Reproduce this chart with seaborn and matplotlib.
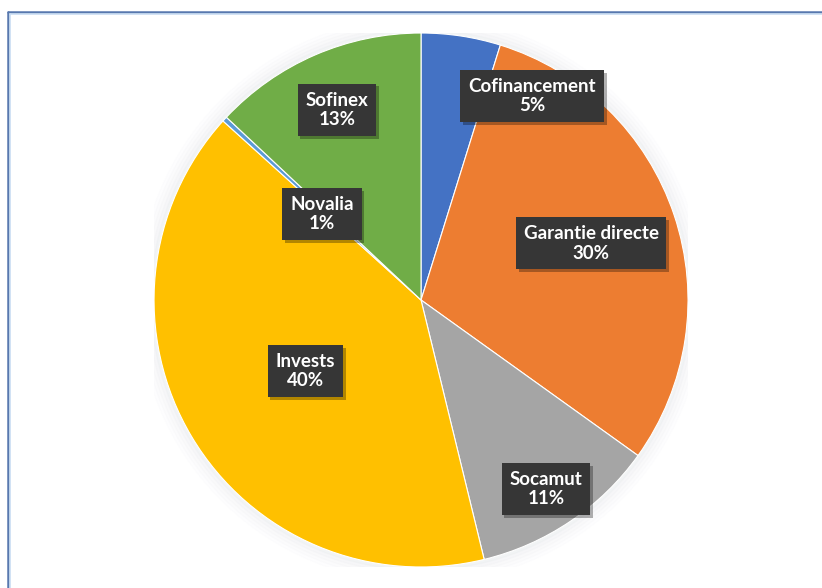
import matplotlib
matplotlib.use("Agg")
import matplotlib.pyplot as plt
import matplotlib.patheffects as pe
import seaborn as sns
from matplotlib.lines import Line2D

sns.set_theme(style="white")
plt.rcParams['font.family'] = ['Lato', 'DejaVu Sans']

# Data
categories = ["Cofinancement", "Garantie directe", "Socamut", "Invests", "Novalia", "Sofinex"]
values = [4.8, 30.1, 11.3, 40.5, 0.3, 13.0]
pct_labels = ["5%", "30%", "11%", "40%", "1%", "13%"]
colors = ["#4472C4", "#ED7D31", "#A5A5A5", "#FFC000", "#5B9BD5", "#70AD47"]

# Label box positions (layout, in axes data units, pie radius = 1)
label_pos = [(0.416, 0.764), (0.637, 0.213), (0.468, -0.708),
             (-0.434, -0.266), (-0.371, 0.322), (-0.315, 0.712)]

fig = plt.figure(figsize=(8.22, 5.88), dpi=100)
fig.patch.set_facecolor("white")

ax = fig.add_axes([0.1874, 0.0357, 0.6496, 0.9082])

# soft shadow halo
for i, a in enumerate([0.03, 0.025, 0.02, 0.015, 0.01]):
    circ = plt.Circle((0, 0), 1.0 + 0.012 * (i + 1), color="#9aa0b0", alpha=a, zorder=0)
    ax.add_patch(circ)

wedges, _ = ax.pie(values, colors=colors, startangle=90, counterclock=False,
                   radius=1.0, wedgeprops=dict(edgecolor="white", linewidth=0.8))

for cat, pct, (x, y) in zip(categories, pct_labels, label_pos):
    t = ax.text(x, y, f"{cat}\n{pct}", ha="center", va="center",
                fontsize=13.5, fontweight="bold", color="white", linespacing=1.2,
                bbox=dict(boxstyle="square,pad=0.42", fc="#363636", ec="none"),
                zorder=5)
    t.get_bbox_patch().set_path_effects([
        pe.SimplePatchShadow(offset=(2, -2), shadow_rgbFace="black", alpha=0.3),
        pe.Normal()])

ax.set_xlim(-1, 1)
ax.set_ylim(-1, 1)
ax.set_aspect("equal")
ax.axis("off")

# Frame border (top and left visible)
W, H = 822, 588
x0 = 8 / W
y0 = 1 - 12 / H
fig.add_artist(Line2D([x0, 1], [y0, y0], transform=fig.transFigure, color="#5878AE", lw=1.8))
fig.add_artist(Line2D([x0, x0], [0, y0], transform=fig.transFigure, color="#5878AE", lw=1.8))
fig.add_artist(Line2D([x0 + 2 / W, 1], [y0 - 2 / H, y0 - 2 / H], transform=fig.transFigure, color="#C9DDF2", lw=1.2))
fig.add_artist(Line2D([x0 + 2 / W, x0 + 2 / W], [0, y0 - 2 / H], transform=fig.transFigure, color="#C9DDF2", lw=1.2))

fig.savefig("out.png", dpi=100, facecolor="white")
